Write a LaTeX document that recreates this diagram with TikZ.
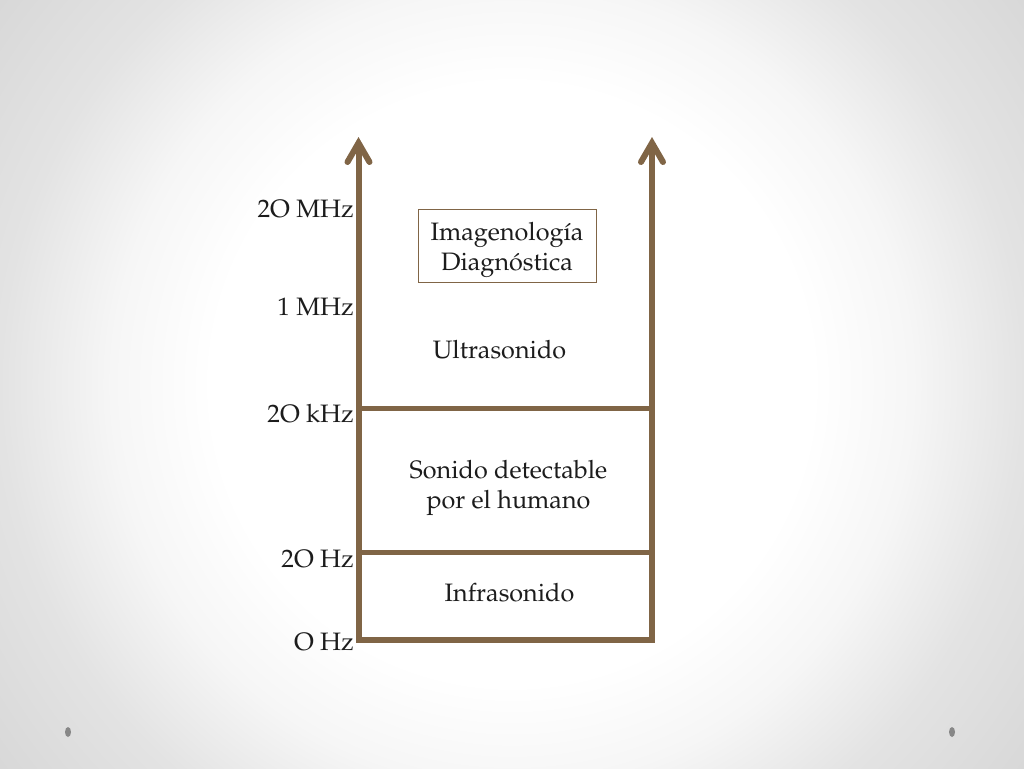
\documentclass[tikz,border=0pt]{standalone}
\usepackage[T1]{fontenc}
\usepackage{mathpazo}
\usetikzlibrary{calc}
\definecolor{brn}{RGB}{128,101,70}
\definecolor{txt}{RGB}{28,28,28}
\definecolor{dotc}{RGB}{135,135,135}
\definecolor{bga}{RGB}{246,246,246}
\definecolor{bgb}{RGB}{227,227,227}
\definecolor{bgc}{RGB}{216,216,216}
\definecolor{bgd}{RGB}{212,212,212}
\pgfdeclareradialshading{bgshade}{\pgfpoint{0bp}{0bp}}{color(0bp)=(white); color(224bp)=(white); color(299bp)=(bga); color(383bp)=(bgb); color(478bp)=(bgc); color(523bp)=(bgd)}
\begin{document}
\begin{tikzpicture}[x=0.75pt,y=-0.75pt,
  axis/.style={draw=brn,line width=4.5pt,line join=miter},
  sep/.style={draw=brn,line width=3.75pt},
  lbl/.style={text=txt,font=\fontsize{18.9}{22.5}\selectfont,inner sep=0pt},
  boxed/.style={lbl,draw=brn,line width=0.75pt,fill=white,align=center,minimum width=133.5pt,inner ysep=0pt,text height=45.75pt,text depth=9pt}]
\useasboundingbox (0,0) rectangle (1024,768);
\begin{scope}
\clip (0,0) rectangle (1024,768);
\node[inner sep=0pt] (bg) at (512,384) {\pgfuseshading{bgshade}};
\end{scope}
\fill[dotc] (68,732) ellipse [x radius=3, y radius=5];
\fill[dotc] (952,732) ellipse [x radius=3, y radius=5];
% axes
\coordinate (t1) at (358.5,143);
\coordinate (b1) at (358.5,640);
\coordinate (t2) at (652,143);
\coordinate (b2) at (652,640);
\coordinate (m1) at (358.5,408.5);
\coordinate (m2) at (652,408.5);
\coordinate (h1) at (358.5,552);
\coordinate (h2) at (652,552);
\draw[sep] (m1) -- (m2);
\draw[sep] (h1) -- (h2);
\draw[axis] (t1) -- (b1) -- (b2) -- (t2);
\draw[axis,line cap=round] ($(t1)+(-11,19)$) -- (t1) -- ($(t1)+(11,19)$);
\draw[axis,line cap=round] ($(t2)+(-11,19)$) -- (t2) -- ($(t2)+(11,19)$);
% frequency labels
\node[lbl,anchor=base east] (f1) at (354,217) {2O MHz};
\node[lbl,anchor=base east] (f2) at (354,315) {1 MHz};
\node[lbl,anchor=base east] (f3) at (354,422) {2O kHz};
\node[lbl,anchor=base east] (f4) at (354,567) {2O Hz};
\node[lbl,anchor=base east] (f5) at (354,650) {O Hz};
% region labels
\node[boxed,anchor=base] (img) at (507,270) {Imagenolog\'{\i}a\\Diagn\'ostica};
\node[lbl,anchor=base] (ultra) at (499.5,358) {Ultrasonido};
\node[lbl,anchor=base,align=center] (son) at (508.5,508) {Sonido detectable\\por el humano};
\node[lbl,anchor=base] (infra) at (509.5,601) {Infrasonido};
\end{tikzpicture}
\end{document}
